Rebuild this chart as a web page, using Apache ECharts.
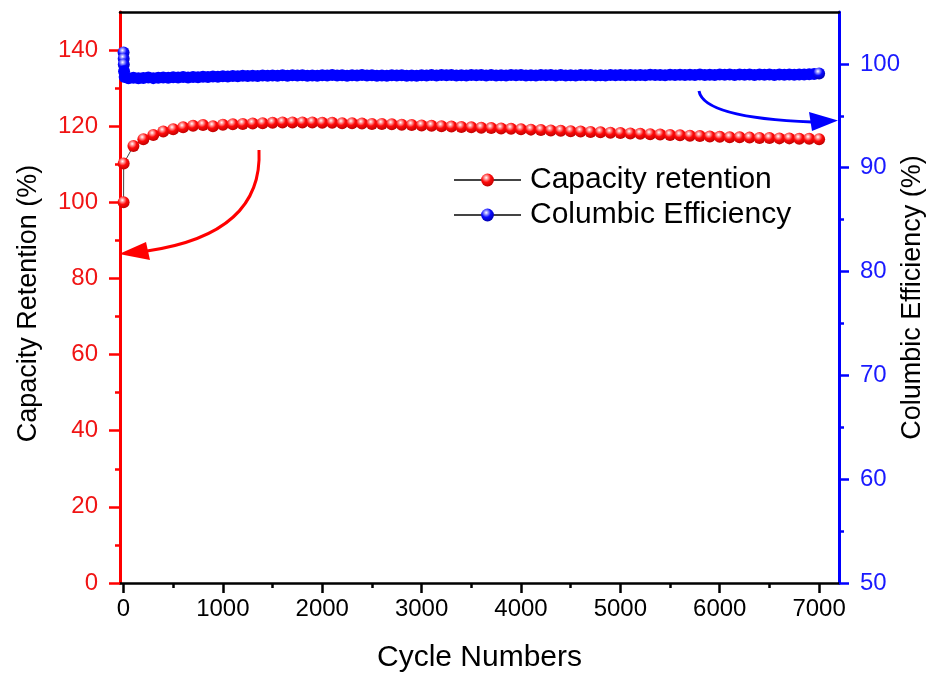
<!DOCTYPE html>
<html>
<head>
<meta charset="utf-8">
<script src="https://cdn.jsdelivr.net/npm/echarts@6/dist/echarts.min.js"></script>
<style>
  html, body { margin: 0; padding: 0; background: #ffffff; }
  #chart { width: 930px; height: 673px; }
</style>
</head>
<body>
<div id="chart"></div>
<script>
// Capacity retention (%) vs. cycle number
const retentionCycles = [
  1, 2,
  100, 200, 300, 400, 500, 600, 700, 800, 900, 1000,
  1100, 1200, 1300, 1400, 1500, 1600, 1700, 1800, 1900, 2000,
  2100, 2200, 2300, 2400, 2500, 2600, 2700, 2800, 2900, 3000,
  3100, 3200, 3300, 3400, 3500, 3600, 3700, 3800, 3900, 4000,
  4100, 4200, 4300, 4400, 4500, 4600, 4700, 4800, 4900, 5000,
  5100, 5200, 5300, 5400, 5500, 5600, 5700, 5800, 5900, 6000,
  6100, 6200, 6300, 6400, 6500, 6600, 6700, 6800, 6900, 7000
];
const retentionValues = [
  100.0, 110.2,
  114.8, 116.6, 117.7, 118.6, 119.2, 119.7, 120.1, 120.3, 120.0, 120.4,
  120.5, 120.6, 120.7, 120.8, 120.9, 121.0, 121.0, 121.0, 121.0, 120.9,
  120.9, 120.8, 120.8, 120.7, 120.6, 120.6, 120.5, 120.4, 120.3, 120.2,
  120.1, 120.0, 119.9, 119.8, 119.7, 119.6, 119.5, 119.4, 119.3, 119.2,
  119.1, 119.0, 118.9, 118.8, 118.7, 118.6, 118.5, 118.4, 118.3, 118.2,
  118.1, 118.0, 117.9, 117.8, 117.7, 117.6, 117.5, 117.4, 117.3, 117.2,
  117.1, 117.1, 117.0, 116.9, 116.9, 116.8, 116.8, 116.7, 116.7, 116.6
];

// Coulombic efficiency (%) vs. cycle number
const efficiencyCycles = [
  1, 2, 3, 6, 12,
  50, 100, 150, 200, 250, 300, 350, 400, 450, 500,
  550, 600, 650, 700, 750, 800, 850, 900, 950, 1000,
  1050, 1100, 1150, 1200, 1250, 1300, 1350, 1400, 1450, 1500,
  1550, 1600, 1650, 1700, 1750, 1800, 1850, 1900, 1950, 2000,
  2050, 2100, 2150, 2200, 2250, 2300, 2350, 2400, 2450, 2500,
  2550, 2600, 2650, 2700, 2750, 2800, 2850, 2900, 2950, 3000,
  3050, 3100, 3150, 3200, 3250, 3300, 3350, 3400, 3450, 3500,
  3550, 3600, 3650, 3700, 3750, 3800, 3850, 3900, 3950, 4000,
  4050, 4100, 4150, 4200, 4250, 4300, 4350, 4400, 4450, 4500,
  4550, 4600, 4650, 4700, 4750, 4800, 4850, 4900, 4950, 5000,
  5050, 5100, 5150, 5200, 5250, 5300, 5350, 5400, 5450, 5500,
  5550, 5600, 5650, 5700, 5750, 5800, 5850, 5900, 5950, 6000,
  6050, 6100, 6150, 6200, 6250, 6300, 6350, 6400, 6450, 6500,
  6550, 6600, 6650, 6700, 6750, 6800, 6850, 6900, 6950, 7000
];
const efficiencyValues = [
  101.1, 100.5, 99.95, 99.3, 98.75,
  98.62, 98.66, 98.61, 98.65, 98.68, 98.63, 98.67, 98.70, 98.66, 98.71,
  98.69, 98.73, 98.70, 98.75, 98.72, 98.77, 98.74, 98.79, 98.76, 98.81,
  98.79, 98.84, 98.81, 98.86, 98.83, 98.87, 98.84, 98.88, 98.85, 98.89,
  98.86, 98.90, 98.87, 98.91, 98.88, 98.90, 98.86, 98.89, 98.87, 98.91,
  98.88, 98.92, 98.89, 98.91, 98.87, 98.90, 98.88, 98.92, 98.89, 98.90,
  98.86, 98.89, 98.87, 98.91, 98.88, 98.90, 98.87, 98.89, 98.86, 98.90,
  98.88, 98.92, 98.89, 98.93, 98.90, 98.92, 98.88, 98.91, 98.89, 98.93,
  98.90, 98.93, 98.89, 98.92, 98.88, 98.91, 98.89, 98.93, 98.90, 98.92,
  98.88, 98.91, 98.89, 98.92, 98.90, 98.93, 98.89, 98.92, 98.88, 98.91,
  98.89, 98.92, 98.90, 98.93, 98.89, 98.91, 98.88, 98.92, 98.90, 98.93,
  98.91, 98.94, 98.90, 98.93, 98.91, 98.95, 98.92, 98.94, 98.91, 98.95,
  98.93, 98.96, 98.92, 98.95, 98.93, 98.97, 98.94, 98.96, 98.93, 98.97,
  98.95, 98.98, 98.94, 98.97, 98.95, 98.98, 98.94, 98.97, 98.95, 98.98,
  98.94, 98.97, 98.95, 98.98, 98.96, 98.99, 98.97, 99.00, 99.02, 99.08
];

// Tick positions
const cycleTicks = [0, 1000, 2000, 3000, 4000, 5000, 6000, 7000];
const cycleMinorTicks = [500, 1500, 2500, 3500, 4500, 5500, 6500];
const retentionTicks = [0, 20, 40, 60, 80, 100, 120, 140];
const retentionMinorTicks = [10, 30, 50, 70, 90, 110, 130];
const efficiencyTicks = [50, 60, 70, 80, 90, 100];
const efficiencyMinorTicks = [55, 65, 75, 85, 95];

const FONT = '"Liberation Sans", Arial, sans-serif';
const RED = '#ff0000';
const BLUE = '#0000ff';
const plain = v => String(v);

function sphere(base, light, dark) {
  return {
    type: 'radial', x: 0.4, y: 0.32, r: 0.72,
    colorStops: [
      { offset: 0, color: '#ffffff' },
      { offset: 0.2, color: light },
      { offset: 0.5, color: base },
      { offset: 1, color: dark }
    ]
  };
}
const redBall = sphere('#ff0a0a', '#ff9a9a', '#b80000');
const blueBall = sphere('#0a0aff', '#9a9aff', '#0000a8');

const retentionData = retentionCycles.map((c, i) => [c, retentionValues[i]]);
const lastEff = efficiencyCycles.length - 1;
const efficiencyData = efficiencyCycles.map((c, i) => {
  const item = { value: [c, efficiencyValues[i]] };
  if (i < 3 || i === lastEff) item.itemStyle = { color: blueBall };
  return item;
});

function majorAxis(extra, titleStyle) {
  return Object.assign({
    type: 'value',
    splitLine: { show: false },
    nameMoveOverlap: false,
    nameTextStyle: Object.assign({ fontFamily: FONT, color: '#000' }, titleStyle)
  }, extra);
}
function minorAxis(extra, color) {
  return {
    type: 'value',
    min: extra.min, max: extra.max, position: extra.position,
    splitLine: { show: false },
    axisLine: { show: false, onZero: false },
    axisLabel: { show: false },
    axisTick: { show: true, inside: false, length: 5, lineStyle: { color: color, width: 2.5 }, customValues: extra.ticks }
  };
}

const chart = echarts.init(document.getElementById('chart'), null, { renderer: 'canvas' });

chart.setOption({
  animation: false,
  backgroundColor: '#ffffff',
  grid: { left: 120, right: 91, top: 12, bottom: 90, containLabel: false, outerBoundsMode: 'none' },
  legend: {
    orient: 'vertical',
    left: 453,
    top: 165,
    padding: 0,
    itemWidth: 67,
    itemHeight: 16,
    itemGap: 5,
    selectedMode: false,
    textStyle: { fontSize: 30, fontFamily: FONT, color: '#000', padding: [0, 0, 0, 4] },
    data: [
      { name: 'Capacity retention', itemStyle: { color: redBall } },
      { name: 'Columbic Efficiency', itemStyle: { color: blueBall } }
    ]
  },
  xAxis: [
    majorAxis({
      min: -35, max: 7200, position: 'bottom',
      name: 'Cycle Numbers', nameLocation: 'middle', nameGap: 60,
      axisLine: { show: true, onZero: false, lineStyle: { color: '#000', width: 2.5 } },
      axisTick: { show: true, length: 10, lineStyle: { color: '#000', width: 2.5 }, customValues: cycleTicks },
      axisLabel: { fontSize: 24, fontFamily: FONT, color: '#000', margin: 14, customValues: cycleTicks, formatter: plain }
    }, { fontSize: 30 }),
    minorAxis({ min: -35, max: 7200, position: 'bottom', ticks: cycleMinorTicks }, '#000'),
    {
      type: 'value', min: -35, max: 7200, position: 'top',
      splitLine: { show: false },
      axisLine: { show: true, onZero: false, lineStyle: { color: '#000', width: 2.5 } },
      axisTick: { show: false }, axisLabel: { show: false }
    }
  ],
  yAxis: [
    majorAxis({
      min: 0, max: 150, position: 'left',
      name: 'Capacity Retention (%)', nameLocation: 'middle', nameGap: 78,
      axisLine: { show: true, onZero: false, lineStyle: { color: RED, width: 3 } },
      axisTick: { show: true, length: 11, lineStyle: { color: RED, width: 2.5 }, customValues: retentionTicks },
      axisLabel: { fontSize: 24, fontFamily: FONT, color: '#f01414', margin: 22, customValues: retentionTicks, formatter: plain }
    }, { fontSize: 27, padding: [0, 12, 0, 0] }),
    minorAxis({ min: 0, max: 150, position: 'left', ticks: retentionMinorTicks }, RED),
    majorAxis({
      min: 50, max: 105, position: 'right',
      name: 'Columbic Efficiency (%)', nameLocation: 'middle', nameGap: 60,
      axisLine: { show: true, onZero: false, lineStyle: { color: BLUE, width: 3 } },
      axisTick: { show: true, length: 10, lineStyle: { color: BLUE, width: 2.5 }, customValues: efficiencyTicks },
      axisLabel: { fontSize: 24, fontFamily: FONT, color: '#1a1aff', margin: 21, customValues: efficiencyTicks, formatter: plain }
    }, { fontSize: 27 }),
    minorAxis({ min: 50, max: 105, position: 'right', ticks: efficiencyMinorTicks }, BLUE)
  ],
  series: [
    {
      name: 'Columbic Efficiency',
      type: 'line',
      xAxisIndex: 0, yAxisIndex: 2,
      data: efficiencyData,
      symbol: 'circle', symbolSize: 12, showSymbol: true,
      lineStyle: { color: '#444444', width: 1 },
      itemStyle: { color: BLUE, borderWidth: 0 },
      emphasis: { disabled: true },
      z: 3
    },
    {
      name: 'Capacity retention',
      type: 'line',
      xAxisIndex: 0, yAxisIndex: 0,
      data: retentionData,
      symbol: 'circle', symbolSize: 12, showSymbol: true,
      lineStyle: { color: '#444444', width: 1 },
      itemStyle: { color: redBall, borderWidth: 0 },
      emphasis: { disabled: true },
      z: 4
    }
  ],
  graphic: [
    // curved pointer from the retention curve to the left axis
    {
      type: 'bezierCurve', z: 10,
      shape: { x1: 259, y1: 150, cpx1: 262, cpy1: 212, cpx2: 215, cpy2: 241, x2: 147, y2: 251 },
      style: { stroke: RED, lineWidth: 3, fill: null }
    },
    {
      type: 'polygon', z: 10,
      shape: { points: [[119, 254], [146, 242], [150, 260]] },
      style: { fill: RED }
    },
    // curved pointer from the efficiency curve to the right axis
    {
      type: 'bezierCurve', z: 10,
      shape: { x1: 699, y1: 91, cpx1: 703, cpy1: 113, cpx2: 760, cpy2: 120, x2: 812, y2: 122 },
      style: { stroke: BLUE, lineWidth: 3, fill: null }
    },
    {
      type: 'polygon', z: 10,
      shape: { points: [[838, 120.5], [809, 112], [812, 131]] },
      style: { fill: BLUE }
    }
  ]
});
</script>
</body>
</html>
